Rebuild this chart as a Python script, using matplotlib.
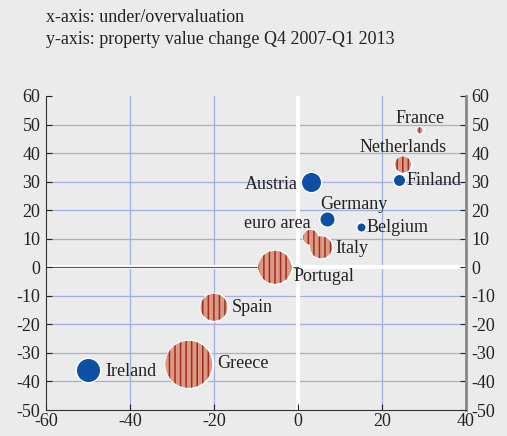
import numpy as np
import matplotlib.pyplot as plt

plt.rcParams["font.family"] = ["Liberation Serif", "DejaVu Serif"]
plt.rcParams["hatch.linewidth"] = 1.1
plt.rcParams["axes.unicode_minus"] = False

# data: undervaluation (x), property value change (y), bubble diameter (px)
paises   = ["France", "Netherlands", "Finland", "Belgium", "Austria", "Germany",
            "euro area", "Italy", "Portugal", "Spain", "Greece", "Ireland"]
x_val    = [29, 25, 24, 15, 3, 7, 3, 5.5, -5.5, -20, -26, -50]
y_val    = [48, 36, 30.5, 14, 30, 17, 10.5, 7, 0, -14, -34, -36]
diam     = [6, 16, 11, 8, 19, 14, 15, 22, 33, 27, 47, 23]
hachurado = [True, True, False, False, False, False, True, True, True, True, True, False]

# rótulo: (dx, dy em px, alinhamento)
rotulos = {
    "France":      (0, 12, "center"),
    "Netherlands": (0, 17, "center"),
    "Finland":     (8, 0, "left"),
    "Belgium":     (6, 0, "left"),
    "Austria":     (-13, -3, "right"),
    "Germany":     (-7, 14, "left"),
    "euro area":   (0, 14, "right"),
    "Italy":       (14, -1, "left"),
    "Portugal":    (19, -9, "left"),
    "Spain":       (18, 0, "left"),
    "Greece":      (28, 1, "left"),
    "Ireland":     (17, -1, "left"),
}

BG = "#ebebeb"
AZUL = "#0d4fa3"
SALMAO = "#db9a85"
VERMELHO = "#a52a1c"
GRID = "#a3aee0"
FS = 13

fig = plt.figure(figsize=(5.07, 4.36), dpi=100, facecolor=BG)
ax = fig.add_axes([46 / 507, 26 / 436, 420 / 507, 314 / 436], facecolor=BG)

ax.set_xlim(-60, 40)
ax.set_ylim(-50, 60)
ax.set_xticks(np.arange(-60, 41, 20))
ax.set_yticks(np.arange(-50, 61, 10))

for v in [-40, -20, 20]:
    ax.axvline(v, color=GRID, lw=0.9, zorder=0)
for v in range(-40, 60, 10):
    if v != 0:
        ax.axhline(v, color=GRID, lw=0.9, zorder=0)
ax.axhline(0, color="white", lw=3, zorder=0.5)
ax.axvline(0, color="white", lw=3, zorder=0.5)
ax.axhline(0, xmin=0, xmax=0.6, color="#555555", lw=0.8, zorder=0.6)

to_pt = 72 / 100
for nome, x, y, d, h in zip(paises, x_val, y_val, diam, hachurado):
    s = (d * to_pt) ** 2
    ax.scatter(x, y, s=(d * to_pt + 2) ** 2, color="white", zorder=2, linewidths=0)
    if h:
        ax.scatter(x, y, s=s, facecolor=SALMAO, edgecolor=VERMELHO, hatch="|||",
                   linewidths=0, zorder=3)
    else:
        ax.scatter(x, y, s=s, color=AZUL, linewidths=0, zorder=3)
    dx, dy, ha = rotulos[nome]
    ax.annotate(nome, (x, y), xytext=(dx * to_pt, dy * to_pt), textcoords="offset points",
                ha=ha, va="center", fontsize=FS, color="#222222", zorder=4)

ax.spines["top"].set_visible(False)
ax.spines["left"].set_color("#333333")
ax.spines["bottom"].set_color("#333333")
ax.spines["right"].set_color("#888888")
ax.spines["right"].set_linewidth(2)

ax.tick_params(axis="both", labelsize=FS, colors="#222222", length=4, direction="in")
ax.tick_params(axis="y", right=True, labelright=True, pad=4)
ax.tick_params(axis="x", pad=2)

fig.text(46 / 507, 1 - 18 / 436, "x-axis: under/overvaluation", fontsize=FS,
         va="center", color="#222222")
fig.text(46 / 507, 1 - 39 / 436, "y-axis: property value change Q4 2007-Q1 2013",
         fontsize=FS, va="center", color="#222222")

fig.savefig("out.png", dpi=100, facecolor=BG)
